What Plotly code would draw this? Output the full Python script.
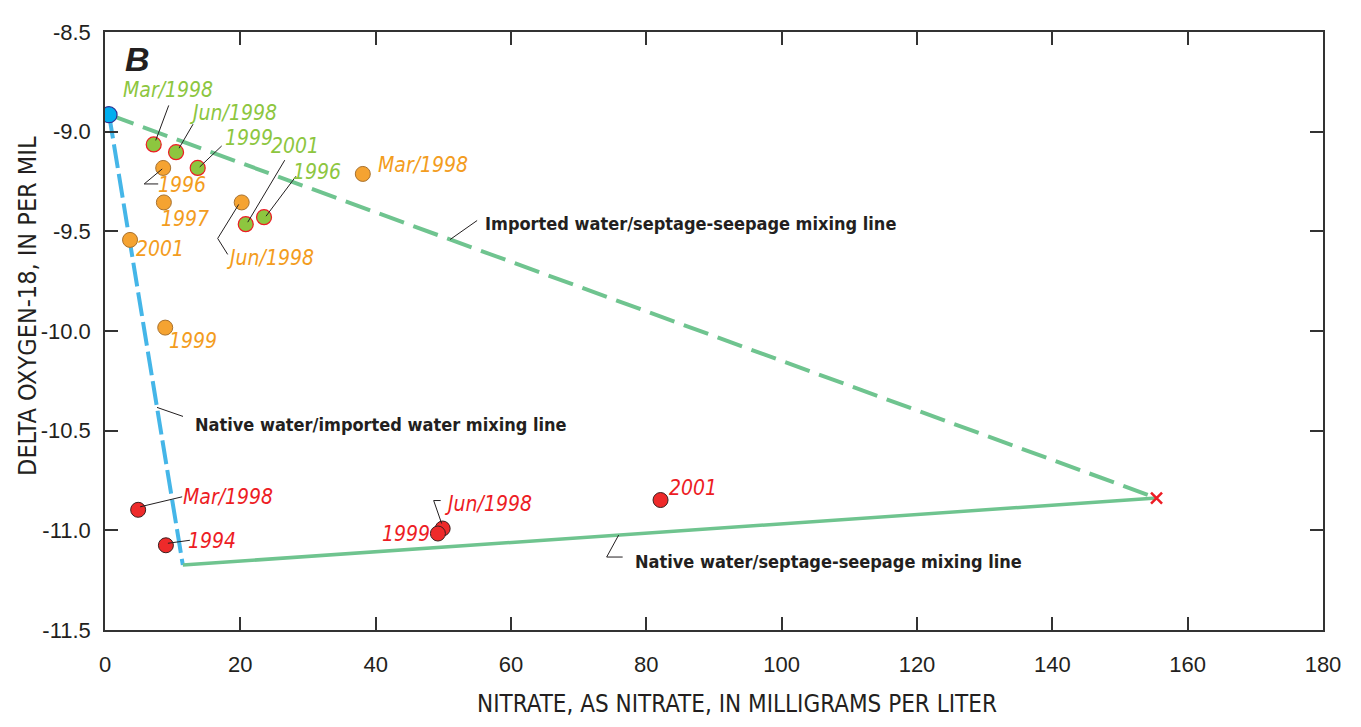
import plotly.graph_objects as go

# ---------------- data ----------------
# end members
imported_x, imported_y = [0.6], [-8.915]
septage_x, septage_y = [155.4], [-10.838]
native_x, native_y = [11.5], [-11.174]

# green samples
green_labels = ["Mar/1998", "Jun/1998", "1999", "2001", "1996"]
green_x = [7.2, 10.5, 13.7, 20.8, 23.5]
green_y = [-9.064, -9.103, -9.182, -9.464, -9.429]

# orange samples
orange_labels = ["Mar/1998", "1996", "1997", "Jun/1998", "2001", "1999"]
orange_x = [38.1, 8.6, 8.7, 20.2, 3.7, 8.9]
orange_y = [-9.212, -9.182, -9.355, -9.355, -9.543, -9.983]

# red samples
red_labels = ["Mar/1998", "1994", "Jun/1998", "1999", "2001"]
red_x = [4.9, 9.0, 49.9, 49.2, 82.1]
red_y = [-10.897, -11.075, -10.991, -11.016, -10.848]

x_ticks = [0, 20, 40, 60, 80, 100, 120, 140, 160, 180]
y_ticks = [-8.5, -9.0, -9.5, -10.0, -10.5, -11.0, -11.5]

# ---------------- styles ----------------
GREEN_TXT = "#8dc63f"
ORANGE_TXT = "#f39c20"
RED_TXT = "#ed1c24"
DARK = "#231f20"
LINE_GREEN = "#6fc48f"
LINE_BLUE = "#45b6e8"
LBL_FONT = "Liberation Sans Narrow, DejaVu Sans Condensed, Arial Narrow, sans-serif"
TICK_FONT = "Liberation Sans, Arial, sans-serif"

# label placement: (text dx, text dy, leader polyline in px offsets from point, screen y down)
green_place = [
    (14, -54, [(2, -4), (15, -39)]),
    (57, -39, [(3, -4), (17, -28)]),
    (51, -30, [(2, -1), (24, -22)]),
    (49, -78, [(2, -2), (39, -64)]),
    (53, -45, [(2, -1), (32, -41)]),
]
orange_place = [
    (60, -9, []),
    (19, 17, [(-1, 1), (-19, 16), (-5, 16)]),
    (21, 17, []),
    (28, 56, [(-3, 2), (-24, 36), (-14, 52)]),
    (30, 9, []),
    (28, 13, []),
]
red_place = [
    (90, -13, [(2, -3), (44, -13)]),
    (46, -4, [(2, -2), (24, -5)]),
    (45, -25, [(-1, -5), (-9, -28), (-2, -28)]),
    (-32, 0, []),
    (32, -12, []),
]

fig = go.Figure()

# mixing lines
fig.add_trace(go.Scatter(x=[imported_x[0], native_x[0]], y=[imported_y[0], native_y[0]],
                         mode="lines", line=dict(color=LINE_BLUE, width=4, dash="24px,6px"),
                         hoverinfo="skip", showlegend=False))
fig.add_trace(go.Scatter(x=[imported_x[0], septage_x[0]], y=[imported_y[0], septage_y[0]],
                         mode="lines", line=dict(color=LINE_GREEN, width=4, dash="26px,10px"),
                         hoverinfo="skip", showlegend=False))
fig.add_trace(go.Scatter(x=[native_x[0], septage_x[0]], y=[native_y[0], septage_y[0]],
                         mode="lines", line=dict(color=LINE_GREEN, width=3.5),
                         hoverinfo="skip", showlegend=False))

# points
fig.add_trace(go.Scatter(x=orange_x, y=orange_y, mode="markers", text=orange_labels,
                         marker=dict(size=15, color="#f5a331", line=dict(color="#a8712e", width=1)),
                         showlegend=False))
fig.add_trace(go.Scatter(x=green_x, y=green_y, mode="markers", text=green_labels,
                         marker=dict(size=15, color="#8dc63f", line=dict(color="#ed1c24", width=1.2)),
                         showlegend=False))
fig.add_trace(go.Scatter(x=red_x, y=red_y, mode="markers", text=red_labels,
                         marker=dict(size=15, color="#ee2a2a", line=dict(color="#3a1f1f", width=1)),
                         showlegend=False))
fig.add_trace(go.Scatter(x=imported_x, y=imported_y, mode="markers",
                         marker=dict(size=16, color="#00aeef", line=dict(color="#2e3192", width=1.2)),
                         showlegend=False))
fig.add_trace(go.Scatter(x=septage_x, y=septage_y, mode="markers",
                         marker=dict(size=11, symbol="x-thin", color="#ed1c24",
                                     line=dict(color="#ed1c24", width=2.5)),
                         showlegend=False))

shapes = []
annotations = []


def leader(px, py, pts):
    for (ax0, ay0), (ax1, ay1) in zip(pts[:-1], pts[1:]):
        shapes.append(dict(type="line", xref="x", yref="y", xsizemode="pixel", ysizemode="pixel",
                           xanchor=px, yanchor=py, x0=ax0, y0=-ay0, x1=ax1, y1=-ay1,
                           line=dict(color=DARK, width=1)))


def add_labels(xs, ys, labels, place, color):
    for x, y, lab, (dx, dy, pts) in zip(xs, ys, labels, place):
        annotations.append(dict(x=x, y=y, xref="x", yref="y", text=lab, showarrow=False,
                                xshift=dx, yshift=-dy, xanchor="center", yanchor="middle",
                                font=dict(family=LBL_FONT, size=21, color=color, style="italic")))
        if pts:
            leader(x, y, pts)


add_labels(green_x, green_y, green_labels, green_place, GREEN_TXT)
add_labels(orange_x, orange_y, orange_labels, orange_place, ORANGE_TXT)
add_labels(red_x, red_y, red_labels, red_place, RED_TXT)

# mixing-line labels: anchor at fraction t along each line
line_labels = [
    ("Imported water/septage-seepage mixing line", imported_x[0], imported_y[0], septage_x[0], septage_y[0],
     0.3256, (33, -16), [(0, 0), (27, -19)]),
    ("Native water/imported water mixing line", imported_x[0], imported_y[0], native_x[0], native_y[0],
     0.65, (36, 17), [(0, 0), (26, 9)]),
    ("Native water/septage-seepage mixing line", native_x[0], native_y[0], septage_x[0], septage_y[0],
     0.4476, (14, 26), [(0, 0), (-12, 22), (4, 22)]),
]
for text, x0, y0, x1, y1, t, (dx, dy), pts in line_labels:
    ax = x0 + t * (x1 - x0)
    ay = y0 + t * (y1 - y0)
    annotations.append(dict(x=ax, y=ay, xref="x", yref="y", text=text, showarrow=False,
                            xshift=dx, yshift=-dy, xanchor="left", yanchor="middle",
                            font=dict(family=LBL_FONT, size=18, color=DARK, weight="bold")))
    leader(ax, ay, pts)

# panel letter and axis titles
annotations.append(dict(x=0.027, y=0.9555, xref="paper", yref="paper", text="B", showarrow=False,
                        xanchor="center", yanchor="middle",
                        font=dict(family="Liberation Sans, Arial, sans-serif", size=34, color=DARK,
                                  weight="bold", style="italic")))
annotations.append(dict(x=0.519, y=-0.124, xref="paper", yref="paper",
                        text="NITRATE, AS NITRATE, IN MILLIGRAMS PER LITER", showarrow=False,
                        xanchor="center", yanchor="middle",
                        font=dict(family=LBL_FONT, size=24, color=DARK)))
annotations.append(dict(x=-0.0632, y=0.542, xref="paper", yref="paper",
                        text="DELTA OXYGEN-18, IN PER MIL", showarrow=False, textangle=-90,
                        xanchor="center", yanchor="middle",
                        font=dict(family=LBL_FONT, size=25, color=DARK)))

axis_common = dict(showline=True, mirror="ticks", linecolor="#333333", linewidth=1.5,
                   ticks="inside", ticklen=13, tickwidth=1.5, tickcolor="#333333",
                   showgrid=False, zeroline=False,
                   tickfont=dict(family=TICK_FONT, size=22, color=DARK))

# page body has an 8px margin, so the figure is 16px smaller than the window
fig.update_layout(
    width=1345, height=711,
    margin=dict(l=97, r=29, t=15, b=89),
    paper_bgcolor="white", plot_bgcolor="white",
    xaxis=dict(range=[0, 180], tickvals=x_ticks, ticktext=[str(v) for v in x_ticks],
               ticklabelstandoff=14, **axis_common),
    yaxis=dict(range=[-11.5, -8.5], tickvals=y_ticks, ticktext=[f"{v:.1f}" for v in y_ticks],
               ticklabelstandoff=8, **axis_common),
    shapes=shapes, annotations=annotations, showlegend=False,
)

fig.write_html("out.html")
